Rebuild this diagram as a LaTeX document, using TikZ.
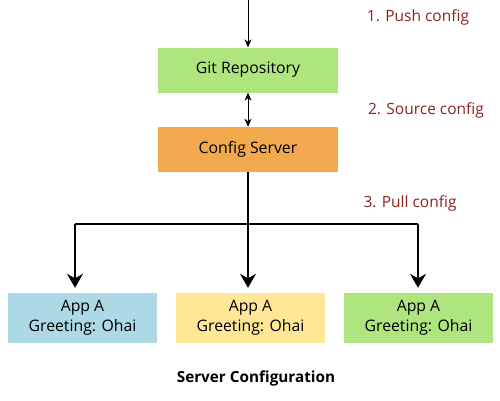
\documentclass[tikz,border=0pt]{standalone}
\usepackage{fontspec}
\setmainfont{Open Sans}
\usetikzlibrary{positioning}
\usetikzlibrary{arrows.meta}
\definecolor{gitgreen}{HTML}{AEE57F}
\definecolor{cfgorange}{HTML}{F2A94E}
\definecolor{appblue}{HTML}{ADD8E6}
\definecolor{appyellow}{HTML}{FFE797}
\definecolor{stepred}{HTML}{8B2323}
\tikzset{%
  thinarrow/.style = {-{Stealth[length=8pt,width=7pt]},semithick},
  fatarrow/.style = {-{Stealth[length=14pt,width=16pt]},line width=1.8pt,shorten >=5pt},
  srv/.style = {rectangle,minimum width=180pt,minimum height=45pt,
        font=\fontsize{15.8}{20}\selectfont},
  app/.style = {rectangle,minimum width=149pt,minimum height=50pt,
        align=center,font=\fontsize{15.8}{20}\selectfont},
  steplabel/.style = {text=stepred,font=\fontsize{15.5}{18}\selectfont}
}
\begin{document}
\begin{tikzpicture}[x=1pt,y=1pt]
  \useasboundingbox (0,0) rectangle (500,400);
  \node[srv,fill=gitgreen] (git) at (248,330) {Git Repository};
  \node[srv,fill=cfgorange] (cfg) [below=34pt of git] {Config Server};
  \node[app,fill=appblue] (app1) at (82.5,82) {App A\\Greeting: Ohai};
  \node[app,fill=appyellow] (app2) at (250.5,82) {App A\\Greeting: Ohai};
  \node[app,fill=gitgreen] (app3) at (418.5,82) {App A\\Greeting: Ohai};
  \coordinate (push) at (248,400);
  \coordinate (bl) at (75,176);
  \coordinate (br) at (418,176);

  \node[steplabel] (s1) at (418,383) {1. Push config};
  \node[steplabel] (s2) at (426,290) {2. Source config};
  \node[steplabel] (s3) at (410,197) {3. Pull config};
  \node[font=\fontsize{15.3}{18}\selectfont\bfseries] (title) at (256,22) {Server Configuration};

  \draw[thinarrow] (push) -- (git);
  \draw[thinarrow,{Stealth[length=8pt,width=7pt]}-{Stealth[length=8pt,width=7pt]}] (git) -- (cfg);
  \draw[fatarrow] (cfg.south) -- (cfg.south |- app2.north);
  \draw[line width=1.8pt] (bl) -- (br);
  \draw[fatarrow] (bl) -- (bl |- app1.north);
  \draw[fatarrow] (br) -- (br |- app3.north);
\end{tikzpicture}
\end{document}
